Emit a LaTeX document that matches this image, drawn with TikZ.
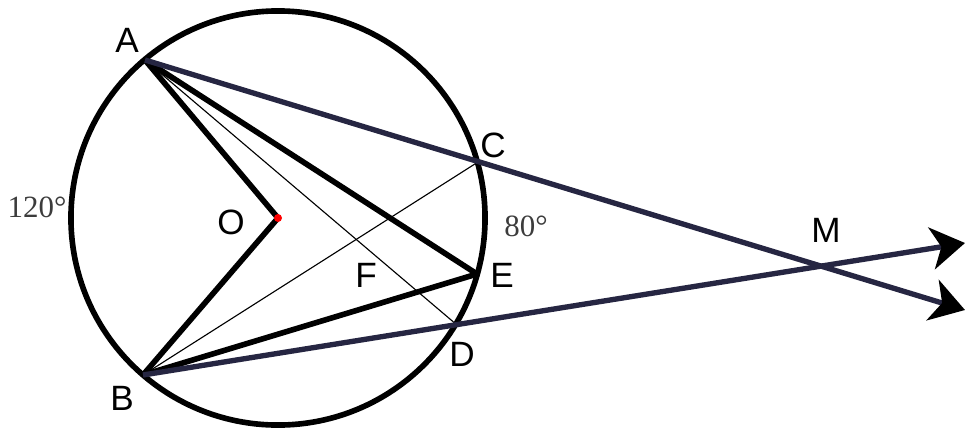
\documentclass[tikz,border=0pt]{standalone}
\usepackage{fontspec}
\setmainfont{Liberation Sans}
\newfontfamily\degfont{Liberation Serif}
\usepackage{xcolor}
\definecolor{navy}{RGB}{38,38,66}
\definecolor{arcgray}{RGB}{60,60,60}
\usetikzlibrary{arrows.meta}

\begin{document}
\begin{tikzpicture}[x=0.025cm, y=-0.025cm, line join=round,
    ptlabel/.style={font=\fontsize{25}{25}\selectfont},
    arclabel/.style={font=\degfont\fontsize{22}{22}\selectfont, text=arcgray},
    thickline/.style={line width=4pt},
    thinline/.style={line width=0.8pt},
    rayline/.style={line width=3.8pt, navy, -{Stealth[length=24pt, width=30pt, inset=7pt, black]}}]
    \useasboundingbox (0,0) rectangle (966,429);

    % Points on the circle
    \coordinate (O) at (278,218);
    \coordinate (A) at (145,60);
    \coordinate (B) at (143,375);
    \coordinate (C) at (478,162);
    \coordinate (D) at (457,325);
    \coordinate (E) at (477,274);
    % Ends of the two rays
    \coordinate (RA) at (965,310);
    \coordinate (RB) at (965,243);

    % Thin chords
    \draw[thinline] (A) -- (D);
    \draw[thinline] (B) -- (C);

    % Central angle and inscribed angle
    \draw[thickline] (A) -- (O) -- (B);
    \draw[thickline] (A) -- (E) -- (B);

    % Circle
    \draw[line width=4pt] (O) circle[radius=5.175cm];

    % Secants meeting at M
    \draw[rayline] (A) -- (RA);
    \draw[rayline] (B) -- (RB);

    % Centre
    \fill[red] (O) circle (0.1cm);

    % Labels
    \node[ptlabel] (lA) at (127,40) {A};
    \node[ptlabel] (lB) at (122,398) {B};
    \node[ptlabel] (lC) at (493,145) {C};
    \node[ptlabel] (lD) at (462,354) {D};
    \node[ptlabel] (lE) at (502,275) {E};
    \node[ptlabel] (lF) at (366,275) {F};
    \node[ptlabel] (lO) at (231,222) {O};
    \node[ptlabel] (lM) at (826,230) {M};
    \node[arclabel] (arcAB) at (37,207) {120°};
    \node[arclabel] (arcCD) at (526,226) {80°};
\end{tikzpicture}
\end{document}
